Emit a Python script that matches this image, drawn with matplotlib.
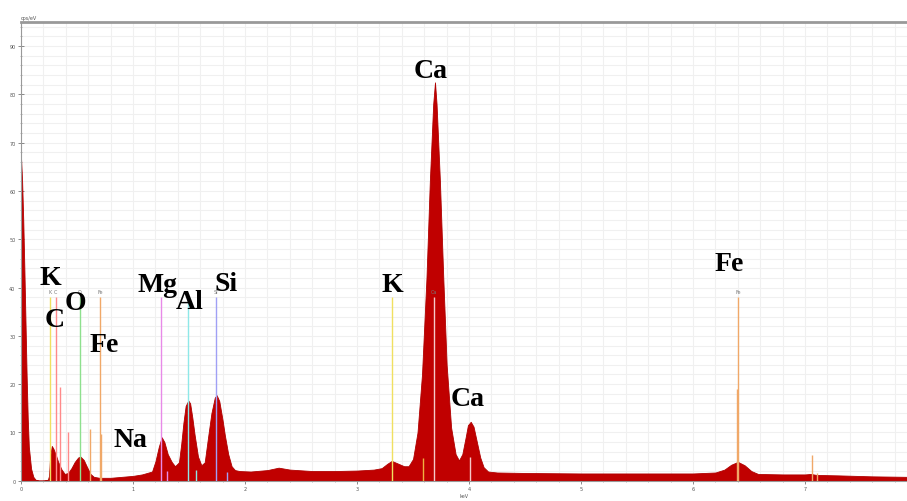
import matplotlib
matplotlib.use("Agg")
import matplotlib.pyplot as plt
from matplotlib.ticker import MultipleLocator

# spectrum outline (keV, cps/eV)
energy = [0.00, 0.01, 0.02, 0.03, 0.04, 0.05, 0.06, 0.07, 0.09, 0.11, 0.13, 0.16, 0.20, 0.24,
          0.25, 0.26, 0.275, 0.29, 0.31, 0.33, 0.36, 0.39, 0.42, 0.45, 0.48, 0.51, 0.53, 0.56,
          0.59, 0.62, 0.65, 0.70, 0.80, 0.90, 1.00, 1.08, 1.14, 1.17, 1.20, 1.23, 1.256, 1.28,
          1.31, 1.345, 1.375, 1.41, 1.43, 1.45, 1.47, 1.494, 1.51, 1.53, 1.55, 1.58, 1.61, 1.64,
          1.67, 1.70, 1.73, 1.747, 1.77, 1.80, 1.82, 1.85, 1.88, 1.91, 1.95, 2.05, 2.20, 2.30,
          2.40, 2.60, 2.80, 3.00, 3.15, 3.22, 3.27, 3.31, 3.36, 3.42, 3.46, 3.50, 3.54, 3.58,
          3.62, 3.65, 3.68, 3.696, 3.71, 3.74, 3.77, 3.80, 3.84, 3.88, 3.91, 3.94, 3.97, 3.99,
          4.015, 4.04, 4.07, 4.10, 4.13, 4.17, 4.25, 4.50, 5.00, 5.50, 6.00, 6.20, 6.28, 6.34,
          6.40, 6.46, 6.52, 6.58, 6.80, 7.00, 7.05, 7.10, 7.30, 7.60, 7.91]
counts = [67, 62, 54, 44, 33, 22, 13, 7, 2.5, 0.8, 0.2, 0.05, 0.05, 0.2,
          1.0, 5.0, 7.2, 6.6, 5.4, 4.0, 2.4, 1.4, 1.6, 2.6, 3.9, 4.8, 5.0, 4.3,
          2.8, 1.4, 0.8, 0.6, 0.6, 0.8, 1.0, 1.3, 1.7, 1.9, 4.0, 7.0, 9.0, 8.0,
          5.5, 3.9, 3.0, 3.8, 7.5, 12.0, 15.5, 16.6, 16.0, 13.0, 9.5, 5.0, 3.2, 3.8,
          9.0, 14.0, 17.2, 17.7, 16.5, 12.5, 9.4, 5.5, 3.0, 2.2, 2.0, 1.9, 2.2, 2.7,
          2.3, 2.0, 2.0, 2.1, 2.3, 2.6, 3.5, 4.1, 3.6, 3.0, 3.0, 4.5, 10, 22,
          42, 62, 78, 82.5, 78, 62, 42, 24, 11, 5.5, 4.2, 5.5, 9.0, 11.5,
          12.2, 11.2, 8.0, 4.8, 2.8, 1.9, 1.7, 1.6, 1.5, 1.5, 1.5, 1.7, 2.3, 3.3,
          3.9, 3.2, 2.0, 1.4, 1.3, 1.3, 1.4, 1.2, 1.1, 0.9, 0.8]

# element marker lines: energy, height, colour
line_energy = [0.259, 0.31, 0.345, 0.417, 0.525, 0.616, 0.705, 0.714, 1.254, 1.30, 1.487, 1.56,
               1.740, 1.836, 3.313, 3.59, 3.691, 4.01, 6.392, 6.400, 7.058, 7.11]
line_height = [38, 38, 19.5, 10, 38, 10.7, 38, 9.7, 38, 2, 38, 2.2,
               38, 1.9, 38, 4.6, 38, 5, 19, 38, 5.3, 1.5]
line_color = ['#f0e060', '#ff8a8a', '#ff8a8a', '#ff8a8a', '#8ee08e', '#f0a868', '#f0a868',
              '#f0a868', '#e88ae8', '#e88ae8', '#8ee8e8', '#8ee8e8', '#a0a0f5', '#a0a0f5',
              '#f0e060', '#f0b040', '#f5c8c8', '#f5c8c8', '#f0a868', '#f0a868', '#f0a868',
              '#f0a868']

# small line tags at the top of the main lines (those not hidden by the big labels)
tag_text = ['K', 'C', 'O', 'Fe', 'Si', 'Ca', 'Fe']
tag_energy = [0.259, 0.31, 0.525, 0.705, 1.740, 3.691, 6.400]

# big element labels (baseline positions)
label_text = ['K', 'C', 'O', 'Fe', 'Mg', 'Al', 'Si', 'Na', 'K', 'Ca', 'Ca', 'Fe']
label_x = [0.259, 0.304, 0.482, 0.741, 1.223, 1.509, 1.830, 0.978, 3.317, 3.661, 3.991, 6.321]
label_y = [40.7, 32.0, 35.5, 26.9, 39.3, 35.7, 39.5, 7.1, 39.3, 83.7, 15.7, 43.7]

fig = plt.figure(figsize=(9.07, 5.02), dpi=100)
ax = fig.add_axes([21 / 907, 20.3 / 502, 886 / 907, 458.7 / 502])

ax.fill_between(energy, counts, 0, color='#c00000', linewidth=0.6, edgecolor='#b00000', zorder=2)
ax.vlines(line_energy, 0, line_height, colors=line_color, linewidth=1.0, zorder=3)

for t, e in zip(tag_text, tag_energy):
    ax.text(e, 38.6, t, fontsize=3.5, color='#777777', ha='center', va='bottom', zorder=4)

for t, x, y in zip(label_text, label_x, label_y):
    ax.text(x, y, t, fontsize=20, fontweight='bold', color='black', ha='center', va='baseline',
            family=['Liberation Serif', 'DejaVu Serif'], zorder=5)

ax.set_xlim(0, 7.91)
ax.set_ylim(0, 95)
ax.xaxis.set_major_locator(MultipleLocator(1))
ax.xaxis.set_minor_locator(MultipleLocator(0.2))
ax.yaxis.set_major_locator(MultipleLocator(10))
ax.yaxis.set_minor_locator(MultipleLocator(2))
ax.grid(which='both', color='#f0f0f0', linewidth=0.8, zorder=0)
ax.set_axisbelow(True)

ax.tick_params(which='major', direction='inout', length=4, width=0.6, color='#777777',
               labelsize=3.5, labelcolor='#555555', pad=2)
ax.tick_params(which='minor', direction='inout', length=2, width=0.5, color='#999999')

for side in ['left', 'bottom']:
    ax.spines[side].set_color('#999999')
    ax.spines[side].set_linewidth(0.8)
ax.spines['top'].set_color('#999999')
ax.spines['top'].set_linewidth(2)
ax.spines['right'].set_visible(False)

ax.text(0.0, 1.004, 'cps/eV', transform=ax.transAxes, fontsize=3.5, color='#555555',
        ha='left', va='bottom')
ax.set_xlabel('keV', fontsize=3.5, color='#555555', labelpad=1)

fig.savefig('out.png', dpi=100, facecolor='white')
